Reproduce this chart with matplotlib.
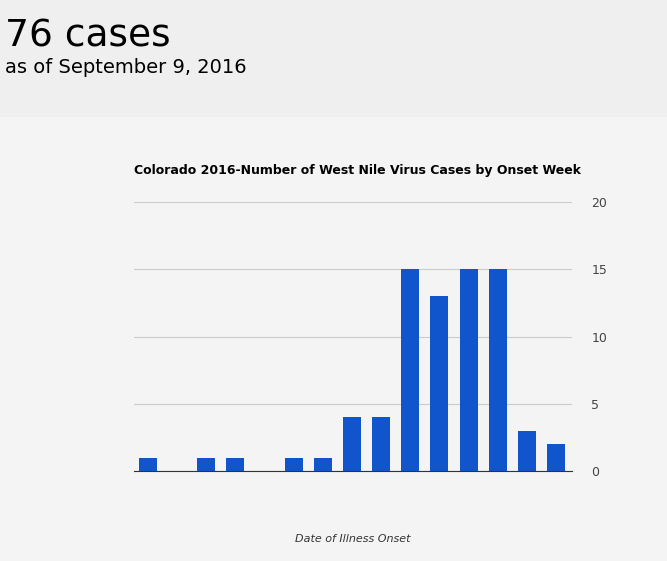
import matplotlib
matplotlib.use('Agg')
import matplotlib.pyplot as plt
from matplotlib.patches import Rectangle

# Weekly case counts by onset week
weeks = list(range(15))
cases = [1, 0, 1, 1, 0, 1, 1, 4, 4, 15, 13, 15, 15, 3, 2]
yticks = [0, 5, 10, 15, 20]

fig = plt.figure(figsize=(6.67, 5.61), dpi=100)
fig.patch.set_facecolor('#f4f4f4')
# header band
fig.patches.append(Rectangle((0, 1 - 117 / 561), 1, 117 / 561, transform=fig.transFigure,
                             facecolor='#efefef', edgecolor='none', zorder=0))
fig.text(0.008, 0.935, '76 cases', fontsize=27, va='center', color='black')
fig.text(0.008, 0.88, 'as of September 9, 2016', fontsize=14, va='center', color='black')

ax = fig.add_axes([134 / 667, 90 / 561, 438 / 667, 269 / 561])
ax.set_facecolor('#f4f4f4')
ax.bar(weeks, cases, width=0.62, color='#1155cc', zorder=3)
ax.set_xlim(-0.48, 14.55)
ax.set_ylim(0, 20)
ax.set_yticks(yticks)
ax.yaxis.tick_right()
ax.tick_params(axis='y', length=0, pad=14, labelsize=9, labelcolor='#444444')
ax.set_xticks([])
ax.grid(axis='y', color='#cccccc', linewidth=0.8, zorder=0)
for s in ['top', 'right', 'left']:
    ax.spines[s].set_visible(False)
ax.spines['bottom'].set_color('#333333')
ax.set_title('Colorado 2016-Number of West Nile Virus Cases by Onset Week',
             loc='left', fontsize=9, fontweight='bold', pad=20)
ax.set_xlabel('Date of Illness Onset', fontsize=8, style='italic', color='#333333', labelpad=45)

fig.savefig('out.png', dpi=100, facecolor=fig.get_facecolor())
